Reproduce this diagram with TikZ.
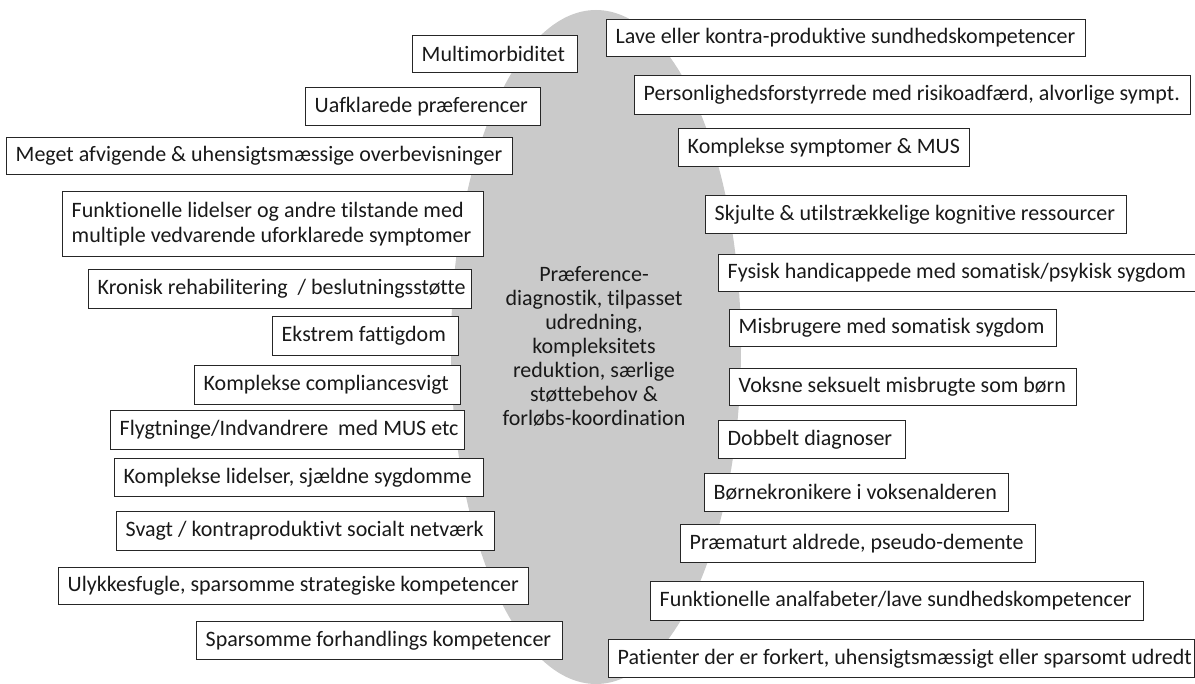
\documentclass[tikz,border=0pt]{standalone}
\usepackage{fontspec}
\setmainfont{Carlito}[Ligatures={NoCommon}]
\definecolor{ellgray}{RGB}{202,202,202}
\definecolor{txt}{RGB}{25,25,25}
\tikzset{
  boxst/.style={draw=black!85, line width=1pt, fill=white, inner sep=0pt},
  lbl/.style={anchor=west, inner sep=0pt, align=left, text=txt, font=\fontsize{22}{25}\selectfont},
  centertxt/.style={align=center, inner sep=0pt, text=txt, font=\fontsize{22}{24}\selectfont},
}
\newcommand\mybox[6]{%
  \pgfmathsetmacro\bw{#4-#2}%
  \pgfmathsetmacro\bh{#5-#3}%
  \node[boxst, minimum width=\bw pt, minimum height=\bh pt, anchor=north west] (#1) at (#2,#3) {};
  \node[lbl] (#1t) at ([xshift=9.5pt]#1.west) {#6};
}
\begin{document}
\begin{tikzpicture}[x=1pt,y=-1pt]
\useasboundingbox (0,0) rectangle (1195,684);
\fill[ellgray] (596,347) ellipse [x radius=145, y radius=337];
\node[centertxt] (core) at (594,346) {Præference-\\diagnostik, tilpasset\\udredning,\\kompleksitets\\reduktion, særlige\\støttebehov \&\\forløbs-koordination};
\mybox{l1}{412}{35}{577}{72}{Multimorbiditet}
\mybox{l2}{305}{87}{540}{125}{Uafklarede præferencer}
\mybox{l3}{6}{137}{512}{174}{Meget afvigende \& uhensigtsmæssige overbevisninger}
\mybox{l4}{62}{191}{483}{256}{Funktionelle lidelser og andre tilstande med\\multiple vedvarende uforklarede symptomer}
\mybox{l5}{88}{269}{471}{308}{Kronisk rehabilitering \ / beslutningsstøtte}
\mybox{l6}{272}{316}{458}{355}{Ekstrem fattigdom}
\mybox{l7}{194}{365}{460}{404}{Komplekse compliancesvigt}
\mybox{l8}{110}{410}{464}{449}{Flygtninge/Indvandrere \ med MUS etc}
\mybox{l9}{114}{458}{483}{496}{Komplekse lidelser, sjældne sygdomme}
\mybox{l10}{116}{511}{494}{550}{Svagt / kontraproduktivt socialt netværk}
\mybox{l11}{58}{567}{528}{604}{Ulykkesfugle, sparsomme strategiske kompetencer}
\mybox{l12}{196}{621}{562}{659}{Sparsomme forhandlings kompetencer}
\mybox{r1}{606}{19}{1085}{56}{Lave eller kontra-produktive sundhedskompetencer}
\mybox{r2}{634}{75}{1190}{114}{Personlighedsforstyrrede med risikoadfærd, alvorlige sympt.}
\mybox{r3}{678}{128}{969}{166}{Komplekse symptomer \& MUS}
\mybox{r4}{705}{195}{1126}{233}{Skjulte \& utilstrækkelige kognitive ressourcer}
\mybox{r5}{718}{254}{1200}{291}{Fysisk handicappede med somatisk/psykisk sygdom}
\mybox{r6}{729}{309}{1056}{346}{Misbrugere med somatisk sygdom}
\mybox{r7}{729}{368}{1076}{405}{Voksne seksuelt misbrugte som børn}
\mybox{r8}{718}{420}{905}{458}{Dobbelt diagnoser}
\mybox{r9}{704}{473}{1008}{511}{Børnekronikere i voksenalderen}
\mybox{r10}{680}{524}{1035}{562}{Præmaturt aldrede, pseudo-demente}
\mybox{r11}{650}{581}{1143}{620}{Funktionelle analfabeter/lave sundhedskompetencer}
\mybox{r12}{608}{639}{1194}{677}{Patienter der er forkert, uhensigtsmæssigt eller sparsomt udredt}
\end{tikzpicture}
\end{document}
